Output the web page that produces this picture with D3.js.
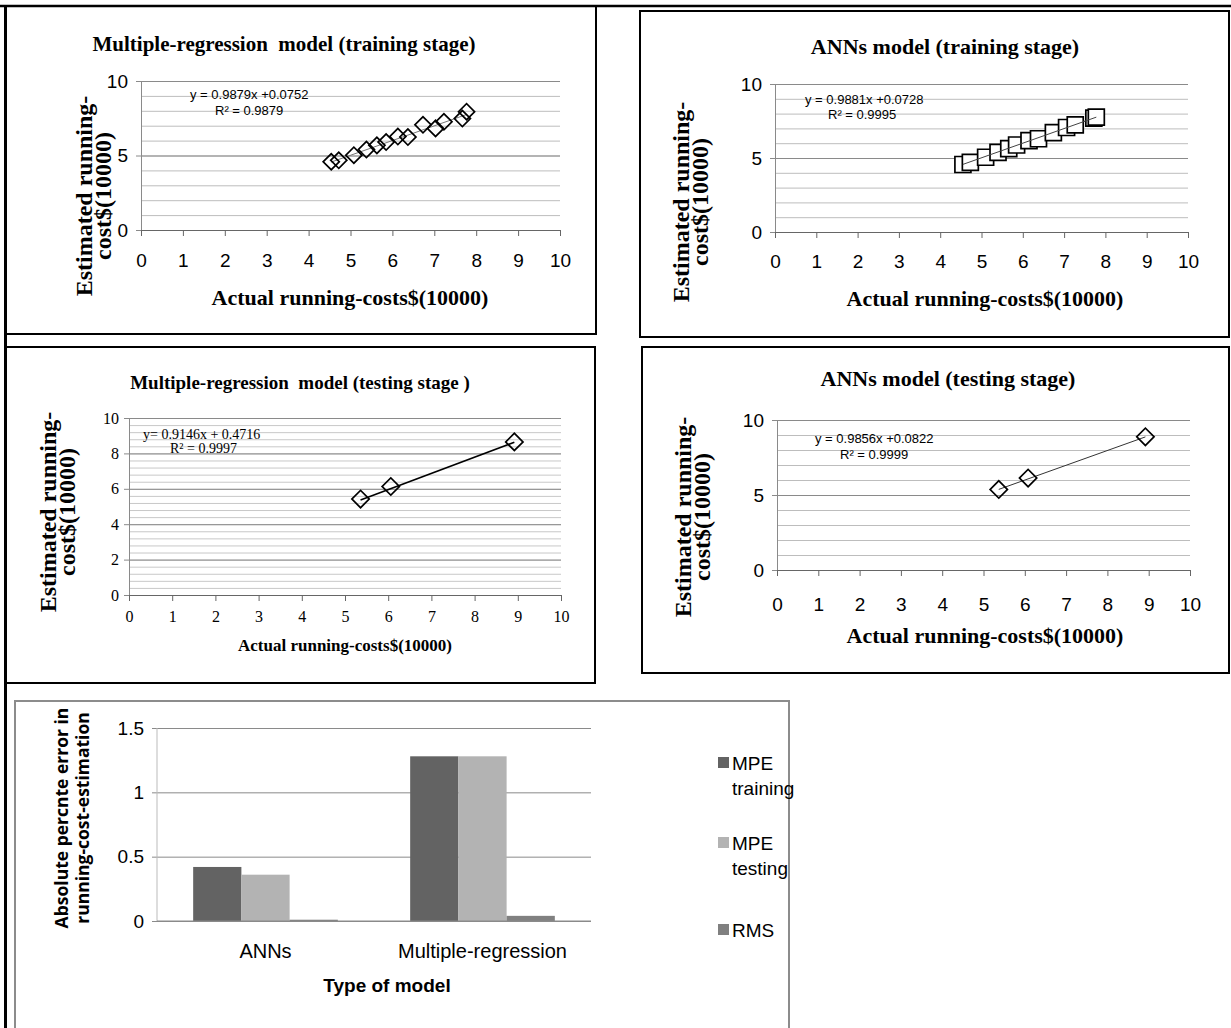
<!DOCTYPE html>
<html>
<head>
<meta charset="utf-8">
<script src="https://cdn.jsdelivr.net/npm/d3@7"></script>
<style>
  body { margin: 0; background: #fff; }
  svg { display: block; }
</style>
</head>
<body>
<svg id="chart" width="1231" height="1028"></svg>
<script>
// ---- data ----
var mrTrainActual    = [4.54, 4.72, 5.08, 5.38, 5.63, 5.85, 6.13, 6.37, 6.73, 7.03, 7.23, 7.67, 7.77];
var mrTrainEstimated = [4.58, 4.68, 5.02, 5.40, 5.68, 5.90, 6.27, 6.24, 7.06, 6.82, 7.26, 7.48, 7.94];
var annTrainActual    = [4.55, 4.73, 5.10, 5.40, 5.66, 5.85, 6.15, 6.38, 6.74, 7.06, 7.27, 7.72, 7.78];
var annTrainEstimated = [4.56, 4.70, 5.05, 5.38, 5.64, 5.88, 6.17, 6.30, 6.72, 7.06, 7.24, 7.70, 7.76];
var mrTestActual    = [5.36, 6.06, 8.92];
var mrTestEstimated = [5.42, 6.13, 8.65];
var annTestActual    = [5.37, 6.08, 8.92];
var annTestEstimated = [5.37, 6.13, 8.88];

var xTicks = [0, 1, 2, 3, 4, 5, 6, 7, 8, 9, 10];

var models = ['ANNs', 'Multiple-regression'];
var seriesNames = ['MPE training', 'MPE testing', 'RMS'];
var mpeTraining = [0.42, 1.28];
var mpeTesting  = [0.36, 1.28];
var rms         = [0.01, 0.04];
var barTicks = [0, 0.5, 1, 1.5];

var svg = d3.select('#chart');
var serif = '"Liberation Serif", "Times New Roman", serif';
var sans = '"Liberation Sans", Arial, sans-serif';

// outer frame lines
svg.append('line').attr('x1', 0).attr('x2', 1231).attr('y1', 6).attr('y2', 6)
    .attr('stroke', '#000').attr('stroke-width', 2.5);
svg.append('line').attr('x1', 5.5).attr('x2', 5.5).attr('y1', 5).attr('y2', 1028)
    .attr('stroke', '#000').attr('stroke-width', 3);

function scatterPanel(p) {
    // panel border
    svg.append('rect').attr('x', p.box[0]).attr('y', p.box[1])
        .attr('width', p.box[2] - p.box[0]).attr('height', p.box[3] - p.box[1])
        .attr('fill', 'none').attr('stroke', '#000').attr('stroke-width', 2);

    var x = d3.scaleLinear().domain([0, 10]).range([p.plot[0], p.plot[2]]);
    var y = d3.scaleLinear().domain([0, 10]).range([p.plot[3], p.plot[1]]);
    var w = p.plot[2] - p.plot[0];

    // minor grid
    svg.append('g').attr('transform', 'translate(' + p.plot[0] + ',0)')
        .call(d3.axisLeft(y).tickValues(d3.range(0, 10.001, p.minor)).tickSize(-w).tickFormat(''))
        .call(function (g) { g.select('.domain').remove(); })
        .selectAll('line').attr('stroke', p.minorColor);
    // major grid
    svg.append('g').attr('transform', 'translate(' + p.plot[0] + ',0)')
        .call(d3.axisLeft(y).tickValues(p.yTicks).tickSize(-w).tickFormat(''))
        .call(function (g) { g.select('.domain').remove(); })
        .selectAll('line').attr('stroke', '#8a8a8a');

    // y axis
    var ya = svg.append('g').attr('transform', 'translate(' + p.plot[0] + ',0)')
        .call(d3.axisLeft(y).tickValues(p.yTicks).tickSize(5).tickPadding(p.yPad));
    ya.select('.domain').attr('stroke', '#8a8a8a');
    ya.selectAll('line').attr('stroke', '#8a8a8a');
    ya.selectAll('text').attr('font-family', p.tickFont).attr('font-size', p.tickSize).attr('fill', '#000');

    // x axis
    var xa = svg.append('g').attr('transform', 'translate(0,' + p.plot[3] + ')')
        .call(d3.axisBottom(x).tickValues(xTicks).tickSize(6).tickPadding(p.xPad));
    xa.select('.domain').attr('stroke', '#666');
    xa.selectAll('line').attr('stroke', '#666');
    xa.selectAll('text').attr('font-family', p.tickFont).attr('font-size', p.tickSize).attr('fill', '#000');

    // trend line from equation
    var xs = d3.extent(p.ax);
    function trend() {
        svg.append('line')
            .attr('x1', x(xs[0])).attr('y1', y(p.slope * xs[0] + p.icpt))
            .attr('x2', x(xs[1])).attr('y2', y(p.slope * xs[1] + p.icpt))
            .attr('stroke', p.trendColor).attr('stroke-width', p.trendWidth);
    }
    trend();

    // markers
    var pts = p.ax.map(function (v, i) { return [v, p.es[i]]; });
    svg.append('g').selectAll('path').data(pts).join('path')
        .attr('d', d3.symbol(d3.symbolSquare, p.markerArea))
        .attr('transform', function (d) {
            return 'translate(' + x(d[0]) + ',' + y(d[1]) + ')' + (p.diamond ? ' rotate(45)' : '');
        })
        .attr('fill', p.diamond ? 'none' : '#fff').attr('stroke', '#000').attr('stroke-width', 1.7);

    // square markers are filled, so the trend line goes on top of them
    if (!p.diamond) trend();

    // equation labels
    svg.append('text').attr('x', p.eq[0]).attr('y', p.eq[1])
        .attr('font-family', p.eqFont).attr('font-size', p.eqSize).text(p.eqText);
    svg.append('text').attr('x', p.eq[2]).attr('y', p.eq[3])
        .attr('font-family', p.eqFont).attr('font-size', p.eqSize).text(p.r2Text);

    // titles
    svg.append('text').attr('x', p.title[0]).attr('y', p.title[1]).attr('text-anchor', 'middle')
        .attr('font-family', serif).attr('font-weight', 'bold').attr('font-size', p.title[2])
        .style('white-space', 'pre').text(p.titleText);
    svg.append('text').attr('x', p.xTitle[0]).attr('y', p.xTitle[1]).attr('text-anchor', 'middle')
        .attr('font-family', serif).attr('font-weight', 'bold').attr('font-size', p.xTitle[2])
        .text('Actual running-costs$(10000)');
    var yl = svg.append('text').attr('text-anchor', 'middle')
        .attr('transform', 'translate(' + p.yTitle[0] + ',' + p.yTitle[1] + ') rotate(-90)')
        .attr('font-family', serif).attr('font-weight', 'bold').attr('font-size', p.yTitle[2]);
    yl.append('tspan').attr('x', 0).attr('dy', 0).text('Estimated running-');
    yl.append('tspan').attr('x', 0).attr('dy', p.yTitle[3]).text('cost$(10000)');
}

scatterPanel({
    box: [6, 6, 596, 334], plot: [141, 81, 560, 230],
    minor: 1, yTicks: [0, 5, 10], minorColor: '#bdbdbd',
    tickFont: sans, tickSize: 19, yPad: 8, xPad: 18,
    ax: mrTrainActual, es: mrTrainEstimated, slope: 0.9879, icpt: 0.0752,
    trendColor: '#777', trendWidth: 1, diamond: true, markerArea: 130,
    eq: [190, 99, 215, 115], eqFont: sans, eqSize: 13,
    eqText: 'y = 0.9879x +0.0752', r2Text: 'R² = 0.9879',
    title: [284, 51, 21], titleText: 'Multiple-regression  model (training stage)',
    xTitle: [350, 305, 22], yTitle: [92, 196, 24, 19]
});

scatterPanel({
    box: [640, 11, 1229, 337], plot: [775, 84, 1188, 232],
    minor: 1, yTicks: [0, 5, 10], minorColor: '#bdbdbd',
    tickFont: sans, tickSize: 19, yPad: 8, xPad: 17,
    ax: annTrainActual, es: annTrainEstimated, slope: 0.9881, icpt: 0.0728,
    trendColor: '#444', trendWidth: 1, diamond: false, markerArea: 256,
    eq: [805, 104, 828, 119], eqFont: sans, eqSize: 13,
    eqText: 'y = 0.9881x +0.0728', r2Text: 'R² = 0.9995',
    title: [945, 54, 22], titleText: 'ANNs model (training stage)',
    xTitle: [985, 306, 22], yTitle: [689, 202, 24, 19]
});

scatterPanel({
    box: [6, 347, 595, 683], plot: [129, 418, 561, 595],
    minor: 0.4, yTicks: [0, 2, 4, 6, 8, 10], minorColor: '#c8c8c8',
    tickFont: serif, tickSize: 16, yPad: 5, xPad: 10,
    ax: mrTestActual, es: mrTestEstimated, slope: 0.9146, icpt: 0.4716,
    trendColor: '#000', trendWidth: 1.6, diamond: true, markerArea: 150,
    eq: [143, 439, 170, 453], eqFont: serif, eqSize: 14,
    eqText: 'y= 0.9146x  + 0.4716', r2Text: 'R² = 0.9997',
    title: [300, 389, 19], titleText: 'Multiple-regression  model (testing stage )',
    xTitle: [345, 651, 17], yTitle: [56, 512, 24, 19]
});

scatterPanel({
    box: [642, 347, 1229, 673], plot: [777, 420, 1190, 570],
    minor: 1, yTicks: [0, 5, 10], minorColor: '#bdbdbd',
    tickFont: sans, tickSize: 19, yPad: 8, xPad: 22,
    ax: annTestActual, es: annTestEstimated, slope: 0.9856, icpt: 0.0822,
    trendColor: '#333', trendWidth: 1, diamond: true, markerArea: 150,
    eq: [815, 443, 840, 459], eqFont: sans, eqSize: 13,
    eqText: 'y = 0.9856x +0.0822', r2Text: 'R² = 0.9999',
    title: [948, 386, 22], titleText: 'ANNs model (testing stage)',
    xTitle: [985, 643, 22], yTitle: [691, 517, 24, 19]
});

// ---- bar chart ----
svg.append('rect').attr('x', 15).attr('y', 701).attr('width', 774).attr('height', 340)
    .attr('fill', 'none').attr('stroke', '#8c8c8c').attr('stroke-width', 2);

var barLeft = 157, barRight = 591, barTop = 728, barBottom = 921;
var bx = d3.scaleBand().domain(models).range([barLeft, barRight]).paddingInner(0).paddingOuter(0);
var by = d3.scaleLinear().domain([0, 1.5]).range([barBottom, barTop]);
var barColors = ['#636363', '#b3b3b3', '#808080'];
var barValues = [mpeTraining, mpeTesting, rms];

// gridlines with the outward tick marks
svg.append('g').attr('transform', 'translate(' + (barLeft - 5) + ',0)')
    .call(d3.axisLeft(by).tickValues(barTicks).tickSize(-(barRight - barLeft + 5)).tickPadding(8).tickFormat(d3.format('')))
    .call(function (g) {
        g.select('.domain').remove();
        g.selectAll('line').attr('stroke', '#8a8a8a');
        g.selectAll('text').attr('font-family', sans).attr('font-size', 19).attr('fill', '#000');
    });
svg.append('line').attr('x1', barLeft).attr('x2', barLeft).attr('y1', barTop).attr('y2', barBottom)
    .attr('stroke', '#bbb');

var bw = bx.bandwidth() / (3 + 1.5);
seriesNames.forEach(function (name, si) {
    svg.append('g').selectAll('rect').data(models).join('rect')
        .attr('x', function (m) { return bx(m) + bw * 0.75 + si * bw; })
        .attr('width', bw)
        .attr('y', function (m, i) { return by(barValues[si][i]); })
        .attr('height', function (m, i) { return barBottom - by(barValues[si][i]); })
        .attr('fill', barColors[si]);
});

svg.append('line').attr('x1', barLeft).attr('x2', barRight).attr('y1', barBottom).attr('y2', barBottom)
    .attr('stroke', '#8a8a8a');

svg.append('g').selectAll('text').data(models).join('text')
    .attr('x', function (m) { return bx(m) + bx.bandwidth() / 2; })
    .attr('y', 958).attr('text-anchor', 'middle')
    .attr('font-family', sans).attr('font-size', 20).text(function (m) { return m; });

svg.append('text').attr('x', 387).attr('y', 992).attr('text-anchor', 'middle')
    .attr('font-family', sans).attr('font-weight', 'bold').attr('font-size', 19).text('Type of model');

var byl = svg.append('text').attr('text-anchor', 'middle')
    .attr('transform', 'translate(68,818) rotate(-90)')
    .attr('font-family', '"Open Sans", "DejaVu Sans", sans-serif').attr('font-weight', 'bold').attr('font-size', 17.5);
byl.append('tspan').attr('x', 0).attr('dy', 0).text('Absolute percnte error in');
byl.append('tspan').attr('x', 0).attr('dy', 21).text('running-cost-estimation');

// legend
var legendY = [[763, 788], [843, 868], [930]];
seriesNames.forEach(function (name, i) {
    var lines = name.split(' ');
    svg.append('rect').attr('x', 718).attr('y', legendY[i][0] - 6).attr('width', 11).attr('height', 11)
        .attr('fill', barColors[i]);
    var t = svg.append('text').attr('font-family', sans).attr('font-size', 19);
    lines.forEach(function (l, k) {
        t.append('tspan').attr('x', 732).attr('y', legendY[i][k] + 7).text(l);
    });
});
</script>
</body>
</html>
